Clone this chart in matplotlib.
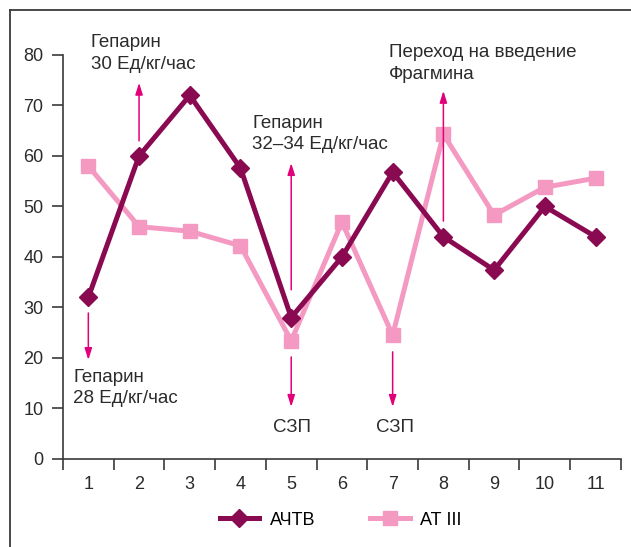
import numpy as np
import matplotlib.pyplot as plt
from matplotlib.lines import Line2D

plt.rcParams['font.family'] = ['Liberation Sans', 'DejaVu Sans']

days = np.arange(1, 12)
achtv = [32, 60, 72, 57.6, 28, 40, 56.8, 44, 37.4, 50, 44]
at3 = [58, 46, 45.1, 42.2, 23.4, 46.9, 24.5, 64.3, 48.3, 53.8, 55.6]

dark = '#8A0A52'
pink = '#F49AC2'
arrow_c = '#E2007A'
txt_c = '#2b2b2b'

fig = plt.figure(figsize=(6.31, 5.47), dpi=100)
ax = fig.add_axes([0.0998, 0.161, 0.8842, 0.7385])

# outer frame (only left and top visible)
fig.add_artist(Line2D([10/631, 10/631], [0, 1 - 10/547], color='#3a3a3a', lw=1.3))
fig.add_artist(Line2D([10/631, 1], [1 - 10/547, 1 - 10/547], color='#3a3a3a', lw=1.3))

ax.plot(days, at3, color=pink, lw=3.6, marker='s', markersize=9.5, label='АТ III', zorder=3)
ax.plot(days, achtv, color=dark, lw=3.6, marker='D', markersize=9, label='АЧТВ', zorder=4)

# arrows
arrows = [
    (1, 28.9, 19.6),
    (2, 63.0, 74.5),
    (5, 33.5, 58.6),
    (5, 20.2, 10.3),
    (7, 21.2, 10.3),
    (8, 47.1, 72.9),
]
for x, y0, y1 in arrows:
    ax.annotate('', xy=(x, y1), xytext=(x, y0),
                arrowprops=dict(arrowstyle='-|>,head_length=0.7,head_width=0.22',
                                color=arrow_c, lw=1.1, shrinkA=0, shrinkB=0),
                zorder=5, annotation_clip=False)

labels = [
    (1.05, 80.3, 'Гепарин\n30 Ед/кг/час', 'left'),
    (4.23, 64.4, 'Гепарин\n32–34 Ед/кг/час', 'left'),
    (6.93, 78.3, 'Переход на введение\nФрагмина', 'left'),
    (0.70, 14.1, 'Гепарин\n28 Ед/кг/час', 'left'),
    (5.02, 6.3, 'СЗП', 'center'),
    (7.05, 6.3, 'СЗП', 'center'),
]
for x, y, s, ha in labels:
    ax.text(x, y, s, ha=ha, va='center', fontsize=13.5, color=txt_c,
            linespacing=1.32, clip_on=False)

ax.set_xlim(0.5, 11.5)
ax.set_ylim(0, 80)
ax.set_yticks(np.arange(0, 81, 10))
ax.set_xticks(days)
ax.set_xticks(np.arange(0.5, 12, 1), minor=True)
ax.tick_params(axis='x', which='major', length=0, pad=12, labelsize=13, labelcolor=txt_c)
ax.tick_params(axis='x', which='minor', length=8, width=1.2, color='#3a3a3a', direction='out')
ax.tick_params(axis='y', length=8, width=1.2, color='#3a3a3a', pad=6, labelsize=13, labelcolor=txt_c)

for side in ['top', 'right']:
    ax.spines[side].set_visible(False)
for side in ['left', 'bottom']:
    ax.spines[side].set_color('#3a3a3a')
    ax.spines[side].set_linewidth(1.2)

h, l = ax.get_legend_handles_labels()
fig.legend([h[1], h[0]], [l[1], l[0]], loc='center', bbox_to_anchor=(0.54, 0.049),
           ncol=2, frameon=False, fontsize=13, handlelength=2.2, columnspacing=3.0,
           handletextpad=0.6)

fig.savefig('out.png', dpi=100)
